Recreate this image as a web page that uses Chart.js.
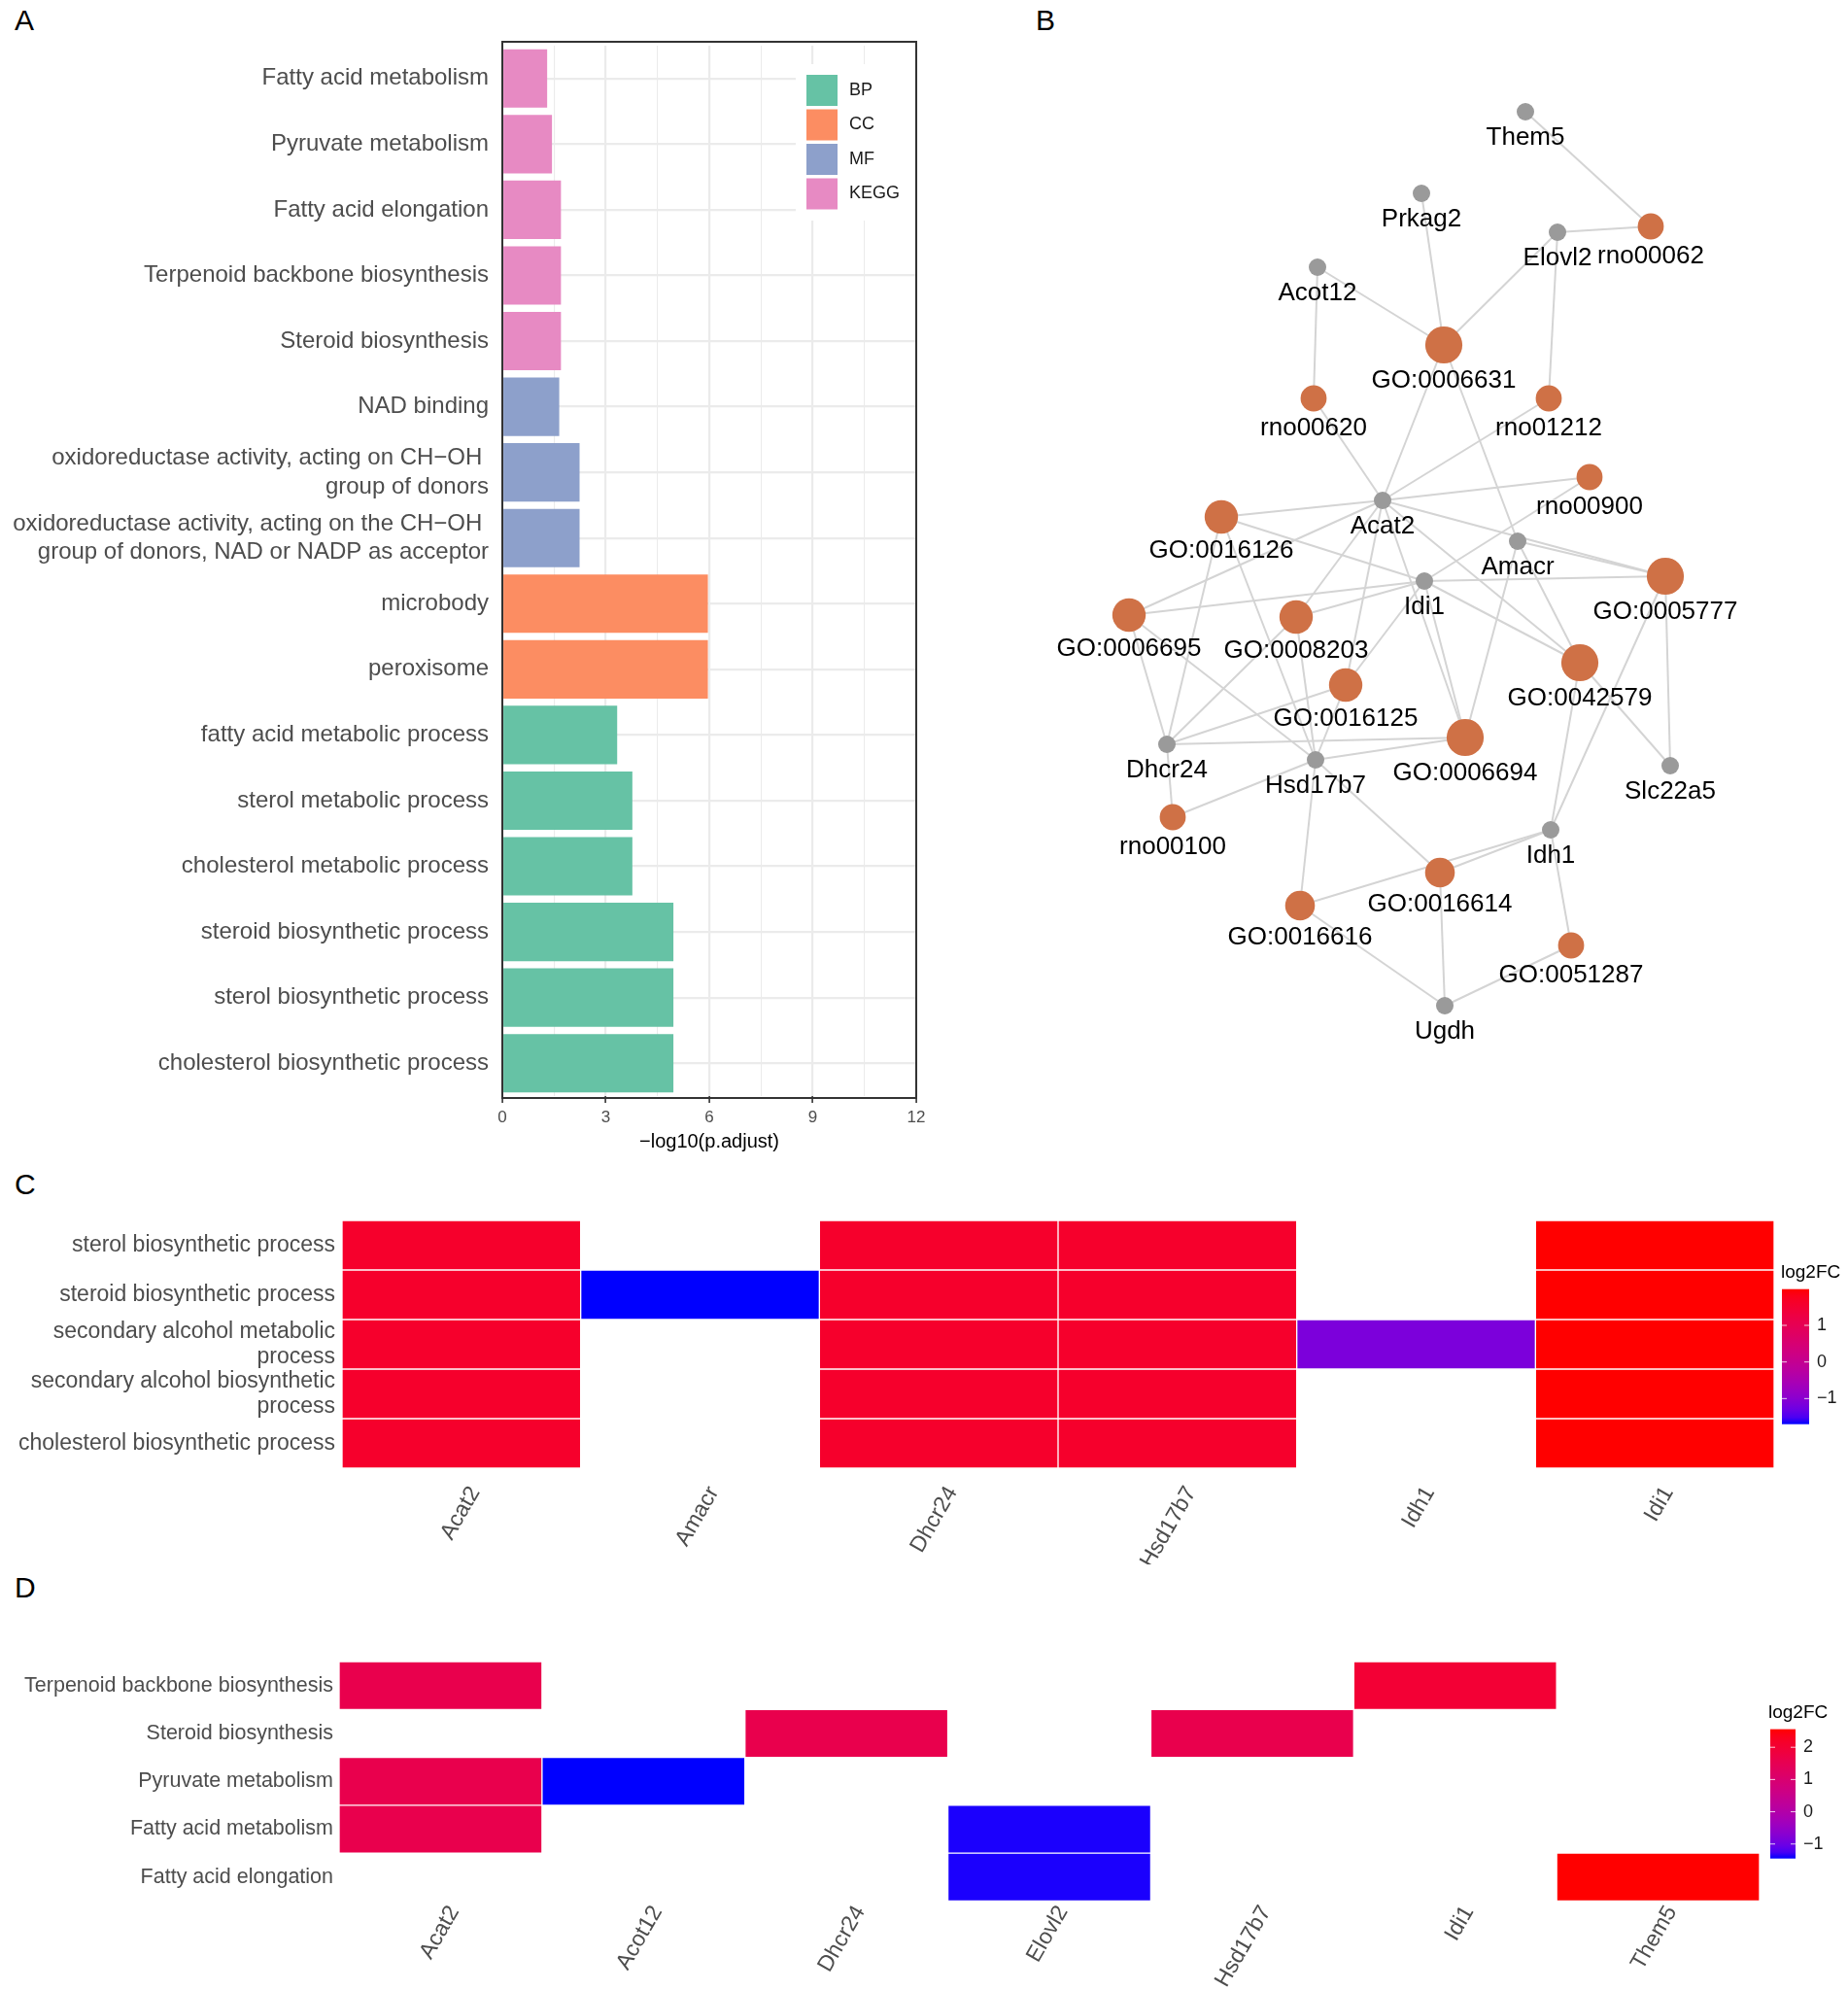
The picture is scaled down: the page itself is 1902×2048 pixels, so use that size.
<!DOCTYPE html>
<html>
<head>
<meta charset="utf-8">
<script src="https://cdn.jsdelivr.net/npm/chart.js@4.4.1/dist/chart.umd.min.js"></script>
<style>
  body { margin: 0; background: #fff; width: 1902px; height: 2048px; position: relative; overflow: hidden;
         font-family: "Liberation Sans", Arial, sans-serif; }
  canvas { position: absolute; }
  .tag { position: absolute; font-size: 30px; line-height: 30px; color: #000; }
</style>
</head>
<body>
<div class="tag" style="left:15px;top:6px">A</div>
<div class="tag" style="left:1066px;top:6px">B</div>
<div class="tag" style="left:15px;top:1204px">C</div>
<div class="tag" style="left:15px;top:1619px">D</div>

<canvas id="barChart" width="1000" height="1210" style="left:0;top:0"></canvas>
<canvas id="netChart" width="822" height="1090" style="left:1080px;top:60px"></canvas>
<canvas id="heatC" width="1902" height="400" style="left:0;top:1210px"></canvas>
<canvas id="heatD" width="1902" height="438" style="left:0;top:1610px"></canvas>

<script>
// ---- panel A: enrichment, top to bottom ----
const aTerms = [
  'Fatty acid metabolism',
  'Pyruvate metabolism',
  'Fatty acid elongation',
  'Terpenoid backbone biosynthesis',
  'Steroid biosynthesis',
  'NAD binding',
  ['oxidoreductase activity, acting on CH\u2212OH ', 'group of donors'],
  ['oxidoreductase activity, acting on the CH\u2212OH ', 'group of donors, NAD or NADP as acceptor'],
  'microbody',
  'peroxisome',
  'fatty acid metabolic process',
  'sterol metabolic process',
  'cholesterol metabolic process',
  'steroid biosynthetic process',
  'sterol biosynthetic process',
  'cholesterol biosynthetic process'
];
const aValues = [1.30, 1.44, 1.70, 1.70, 1.70, 1.65, 2.24, 2.24, 5.96, 5.96, 3.33, 3.77, 3.77, 4.96, 4.96, 4.96];
const aGroups = ['KEGG', 'KEGG', 'KEGG', 'KEGG', 'KEGG', 'MF', 'MF', 'MF', 'CC', 'CC', 'BP', 'BP', 'BP', 'BP', 'BP', 'BP'];
const aGroupNames = ['BP', 'CC', 'MF', 'KEGG'];
const aGroupColors = ['#66C2A5', '#FC8D62', '#8DA0CB', '#E78AC3'];
const aTicks = [0, 3, 6, 9, 12];

// ---- panel B: gene / term network (layout coordinates) ----
const geneNames = ['Them5', 'Prkag2', 'Elovl2', 'Acot12', 'Acat2', 'Amacr', 'Idi1', 'Dhcr24', 'Hsd17b7', 'Slc22a5', 'Idh1', 'Ugdh'];
const geneX = [490, 383, 523, 276, 343, 482, 386, 121, 274, 639, 516, 407];
const geneY = [55, 139, 179, 215, 455, 497, 538, 706, 722, 728, 794, 975];
const termNames = ['rno00062', 'GO:0006631', 'rno00620', 'rno01212', 'rno00900', 'GO:0016126', 'GO:0005777', 'GO:0006695',
                   'GO:0008203', 'GO:0042579', 'GO:0016125', 'GO:0006694', 'rno00100', 'GO:0016614', 'GO:0016616', 'GO:0051287'];
const termX = [619, 406, 272, 514, 556, 177, 634, 82, 254, 546, 305, 428, 127, 402, 258, 537];
const termY = [173, 295, 350, 350, 431, 472, 533, 573, 575, 622, 645, 699, 781, 838, 872, 913];
const termGenes = [
  ['Them5', 'Elovl2'],
  ['Prkag2', 'Elovl2', 'Acot12', 'Acat2', 'Amacr'],
  ['Acot12', 'Acat2'],
  ['Elovl2', 'Acat2'],
  ['Acat2', 'Idi1'],
  ['Acat2', 'Idi1', 'Dhcr24', 'Hsd17b7'],
  ['Acat2', 'Amacr', 'Idi1', 'Slc22a5', 'Idh1'],
  ['Acat2', 'Idi1', 'Dhcr24', 'Hsd17b7'],
  ['Acat2', 'Idi1', 'Dhcr24', 'Hsd17b7'],
  ['Acat2', 'Amacr', 'Idi1', 'Slc22a5', 'Idh1'],
  ['Acat2', 'Idi1', 'Dhcr24', 'Hsd17b7'],
  ['Acat2', 'Amacr', 'Idi1', 'Dhcr24', 'Hsd17b7'],
  ['Dhcr24', 'Hsd17b7'],
  ['Hsd17b7', 'Idh1', 'Ugdh'],
  ['Hsd17b7', 'Idh1', 'Ugdh'],
  ['Idh1', 'Ugdh']
];

// ---- panel C: GO heatmap ----
const cGenes = ['Acat2', 'Amacr', 'Dhcr24', 'Hsd17b7', 'Idh1', 'Idi1'];
const cTerms = [
  'sterol biosynthetic process',
  'steroid biosynthetic process',
  ['secondary alcohol metabolic', 'process'],
  ['secondary alcohol biosynthetic', 'process'],
  'cholesterol biosynthetic process'
];
const cValues = [
  [1.6, null, 1.6, 1.6, null, 1.99],
  [1.6, -1.70, 1.6, 1.6, null, 1.99],
  [1.6, null, 1.6, 1.6, -1.15, 1.99],
  [1.6, null, 1.6, 1.6, null, 1.99],
  [1.6, null, 1.6, 1.6, null, 1.99]
];
const cTicks = [1, 0, -1];

// ---- panel D: KEGG heatmap ----
const dGenes = ['Acat2', 'Acot12', 'Dhcr24', 'Elovl2', 'Hsd17b7', 'Idi1', 'Them5'];
const dTerms = ['Terpenoid backbone biosynthesis', 'Steroid biosynthesis', 'Pyruvate metabolism', 'Fatty acid metabolism', 'Fatty acid elongation'];
const dValues = [
  [1.6, null, null, null, null, 1.99, null],
  [null, null, 1.6, null, 1.6, null, null],
  [1.6, -1.45, null, null, null, null, null],
  [1.6, null, null, -1.42, null, null, null],
  [null, null, null, -1.42, null, null, 2.56]
];
const dTicks = [2, 1, 0, -1];

const font = '"Liberation Sans", Arial, sans-serif';
Chart.defaults.font.family = font;

// ---------- panel A ----------
const aDatasets = aGroupNames.map((g, gi) => ({
  label: g,
  data: aValues.map((v, i) => aGroups[i] === g ? v : null),
  backgroundColor: aGroupColors[gi],
  barPercentage: 0.89,
  categoryPercentage: 1
}));

const aDecor = {
  id: 'aDecor',
  afterDraw(chart) {
    const ctx = chart.ctx;
    const ca = chart.chartArea;
    ctx.save();
    // legend inside the panel
    ctx.fillStyle = '#fff';
    ctx.fillRect(819, 66, ca.right - 819, 161);
    ctx.font = '18px ' + font;
    ctx.textBaseline = 'middle';
    aGroupNames.forEach((g, i) => {
      const y = 77 + i * 35.5;
      ctx.fillStyle = aGroupColors[i];
      ctx.fillRect(830, y, 32, 32);
      ctx.fillStyle = '#1a1a1a';
      ctx.fillText(g, 874, y + 16);
    });
    // panel border
    ctx.strokeStyle = '#333';
    ctx.lineWidth = 2;
    ctx.strokeRect(ca.left, ca.top - 4, ca.right - ca.left, ca.bottom - ca.top + 6);
    ctx.restore();
  }
};

new Chart(document.getElementById('barChart'), {
  type: 'bar',
  data: { labels: aTerms, datasets: aDatasets },
  options: {
    indexAxis: 'y',
    responsive: false,
    animation: false,
    layout: { padding: { top: 47, right: 57, bottom: 19, left: 0 } },
    plugins: { legend: { display: false }, tooltip: { enabled: false } },
    scales: {
      x: {
        stacked: true,
        min: 0,
        max: 12,
        afterFit: s => { s.height = 63; },
        ticks: {
          stepSize: 1.5,
          autoSkip: false,
          maxRotation: 0,
          callback: v => aTicks.includes(v) ? String(v) : '',
          color: '#4d4d4d',
          font: { size: 17 },
          padding: 5
        },
        grid: {
          color: '#ebebeb',
          lineWidth: c => (c.tick && c.tick.value % 3 === 0) ? 2.2 : 1.1,
          tickLength: 7,
          tickWidth: 1.6,
          tickColor: c => (c.tick && c.tick.value % 3 === 0) ? '#333' : 'rgba(0,0,0,0)'
        },
        border: { display: false },
        title: { display: true, text: '\u2212log10(p.adjust)', color: '#000', font: { size: 20 }, padding: { top: 2, bottom: 4 } }
      },
      y: {
        stacked: true,
        afterFit: s => { s.width = 517; },
        ticks: { autoSkip: false, color: '#4d4d4d', font: { size: 24, lineHeight: 1.23 }, padding: 14 },
        grid: { color: '#ebebeb', lineWidth: 2.2, offset: false, drawTicks: false },
        border: { display: false }
      }
    }
  },
  plugins: [aDecor]
});

// ---------- panel B ----------
const termRadius = termGenes.map(g => 9.6 + 1.9 * g.length);
const geneRadius = 9;

const edgeSets = [];
termNames.forEach((t, ti) => {
  termGenes[ti].forEach(g => {
    const gi = geneNames.indexOf(g);
    edgeSets.push({
      label: t + '-' + g,
      data: [{ x: termX[ti], y: termY[ti] }, { x: geneX[gi], y: geneY[gi] }],
      showLine: true,
      borderColor: '#d4d4d4',
      borderWidth: 2,
      pointRadius: 0,
      order: 2
    });
  });
});

const nodeLabels = {
  id: 'nodeLabels',
  afterDatasetsDraw(chart) {
    const ctx = chart.ctx;
    const xs = chart.scales.x, ys = chart.scales.y;
    ctx.save();
    ctx.font = '26px ' + font;
    ctx.fillStyle = '#000';
    ctx.textAlign = 'center';
    ctx.textBaseline = 'middle';
    termNames.forEach((n, i) => {
      ctx.fillText(n, xs.getPixelForValue(termX[i]), ys.getPixelForValue(termY[i]) + termRadius[i] + 17.5);
    });
    geneNames.forEach((n, i) => {
      ctx.fillText(n, xs.getPixelForValue(geneX[i]), ys.getPixelForValue(geneY[i]) + geneRadius + 17.5);
    });
    ctx.restore();
  }
};

new Chart(document.getElementById('netChart'), {
  type: 'scatter',
  data: {
    datasets: [
      {
        label: 'terms',
        data: termNames.map((n, i) => ({ x: termX[i], y: termY[i] })),
        pointRadius: termRadius,
        pointBackgroundColor: '#cf7146',
        pointBorderWidth: 0,
        order: 0
      },
      {
        label: 'genes',
        data: geneNames.map((n, i) => ({ x: geneX[i], y: geneY[i] })),
        pointRadius: geneRadius,
        pointBackgroundColor: '#9a9a9a',
        pointBorderWidth: 0,
        order: 1
      }
    ].concat(edgeSets)
  },
  options: {
    responsive: false,
    animation: false,
    layout: { padding: 0, autoPadding: false },
    plugins: { legend: { display: false }, tooltip: { enabled: false } },
    scales: {
      x: { type: 'linear', min: 0, max: 822, display: false },
      y: { type: 'linear', min: 0, max: 1090, reverse: true, display: false }
    }
  },
  plugins: [nodeLabels]
});

// ---------- colour scale (blue -> red, Lab interpolation) ----------
function toLab(rgb) {
  const lin = c => { c /= 255; return c <= 0.04045 ? c / 12.92 : Math.pow((c + 0.055) / 1.055, 2.4); };
  const R = lin(rgb[0]), G = lin(rgb[1]), B = lin(rgb[2]);
  const X = (0.4124 * R + 0.3576 * G + 0.1805 * B) / 0.95047;
  const Y = 0.2126 * R + 0.7152 * G + 0.0722 * B;
  const Z = (0.0193 * R + 0.1192 * G + 0.9505 * B) / 1.08883;
  const f = t => t > 0.008856 ? Math.cbrt(t) : 7.787 * t + 16 / 116;
  return [116 * f(Y) - 16, 500 * (f(X) - f(Y)), 200 * (f(Y) - f(Z))];
}
function fromLab(lab) {
  const fy = (lab[0] + 16) / 116, fx = fy + lab[1] / 500, fz = fy - lab[2] / 200;
  const inv = t => t * t * t > 0.008856 ? t * t * t : (t - 16 / 116) / 7.787;
  const X = inv(fx) * 0.95047, Y = inv(fy), Z = inv(fz) * 1.08883;
  const R = 3.2406 * X - 1.5372 * Y - 0.4986 * Z;
  const G = -0.9689 * X + 1.8758 * Y + 0.0415 * Z;
  const B = 0.0557 * X - 0.2040 * Y + 1.0570 * Z;
  const g = c => {
    c = c <= 0.0031308 ? 12.92 * c : 1.055 * Math.pow(c, 1 / 2.4) - 0.055;
    return Math.round(255 * Math.min(1, Math.max(0, c)));
  };
  return 'rgb(' + g(R) + ',' + g(G) + ',' + g(B) + ')';
}
const labLow = toLab([0, 0, 255]);
const labHigh = toLab([255, 0, 0]);
function fcColor(v, lo, hi) {
  const t = (v - lo) / (hi - lo);
  return fromLab(labLow.map((a, i) => a + (labHigh[i] - a) * t));
}

// ---------- panels C and D ----------
function heatmap(canvasId, genes, terms, values, ticks, geo) {
  const canvas = document.getElementById(canvasId);
  const all = values.flat().filter(v => v !== null);
  const vmin = Math.min(...all), vmax = Math.max(...all);

  const datasets = terms.map((t, r) => ({
    label: Array.isArray(t) ? t.join(' ') : t,
    data: genes.map((g, c) => values[r][c] === null ? null : [r, r + 1]),
    backgroundColor: genes.map((g, c) => values[r][c] === null ? 'rgba(0,0,0,0)' : fcColor(values[r][c], vmin, vmax)),
    borderColor: 'rgba(255,255,255,0.35)',
    borderWidth: 1,
    borderSkipped: false,
    barPercentage: 1,
    categoryPercentage: 1,
    grouped: false
  }));

  const colorbar = {
    id: 'colorbar',
    afterDraw(chart) {
      const ctx = chart.ctx;
      const L = geo.legend;
      ctx.save();
      const grad = ctx.createLinearGradient(0, L.top + L.h, 0, L.top);
      for (let k = 0; k <= 20; k++) {
        grad.addColorStop(k / 20, fcColor(vmin + (vmax - vmin) * k / 20, vmin, vmax));
      }
      ctx.fillStyle = grad;
      ctx.fillRect(L.x, L.top, L.w, L.h);
      ctx.font = '18px ' + font;
      ctx.textBaseline = 'middle';
      ctx.textAlign = 'left';
      ticks.forEach(t => {
        const y = L.top + (vmax - t) / (vmax - vmin) * L.h;
        ctx.strokeStyle = 'rgba(255,255,255,0.8)';
        ctx.lineWidth = 1;
        ctx.beginPath();
        ctx.moveTo(L.x, y); ctx.lineTo(L.x + 5, y);
        ctx.moveTo(L.x + L.w - 5, y); ctx.lineTo(L.x + L.w, y);
        ctx.stroke();
        ctx.fillStyle = '#1a1a1a';
        ctx.fillText(t < 0 ? '\u2212' + Math.abs(t) : String(t), L.x + L.w + 8, y);
      });
      ctx.font = '19px ' + font;
      ctx.fillStyle = '#000';
      ctx.fillText('log2FC', L.titleX, L.titleY);
      ctx.restore();
    }
  };

  new Chart(canvas, {
    type: 'bar',
    data: { labels: genes, datasets: datasets },
    options: {
      responsive: false,
      animation: false,
      layout: { padding: { top: geo.top, right: canvas.width - geo.right, bottom: 0, left: 0 } },
      plugins: { legend: { display: false }, tooltip: { enabled: false } },
      scales: {
        x: {
          type: 'category',
          afterFit: s => { s.height = canvas.height - geo.bottom; },
          ticks: {
            autoSkip: false, minRotation: 60, maxRotation: 60,
            color: '#4d4d4d', font: { size: geo.colFont }, padding: geo.colPad, labelOffset: geo.colOffset
          },
          grid: { display: false, drawTicks: false },
          border: { display: false }
        },
        y: {
          type: 'linear', min: 0, max: terms.length, reverse: true,
          afterFit: s => { s.width = geo.left; },
          afterBuildTicks: s => { s.ticks = terms.map((t, i) => ({ value: i + 0.5 })); },
          ticks: {
            autoSkip: false,
            callback: (v, i) => terms[i],
            color: '#4d4d4d',
            font: { size: geo.rowFont, lineHeight: 1.16 },
            padding: geo.rowPad
          },
          grid: { display: false, drawTicks: false },
          border: { display: false }
        }
      }
    },
    plugins: [colorbar]
  });
}

heatmap('heatC', cGenes, cTerms, cValues, cTicks, {
  left: 352, right: 1826, top: 46, bottom: 301,
  rowFont: 23, rowPad: 7, colFont: 23, colPad: 14, colOffset: 14,
  legend: { x: 1834, w: 28, top: 116.7, h: 139, titleX: 1833, titleY: 100 }
});

heatmap('heatD', dGenes, dTerms, dValues, dTicks, {
  left: 349, right: 1811, top: 100, bottom: 346.5,
  rowFont: 21.5, rowPad: 6, colFont: 23, colPad: 0, colOffset: 14,
  legend: { x: 1822, w: 26, top: 169.6, h: 133.1, titleX: 1820, titleY: 153 }
});
</script>
</body>
</html>
